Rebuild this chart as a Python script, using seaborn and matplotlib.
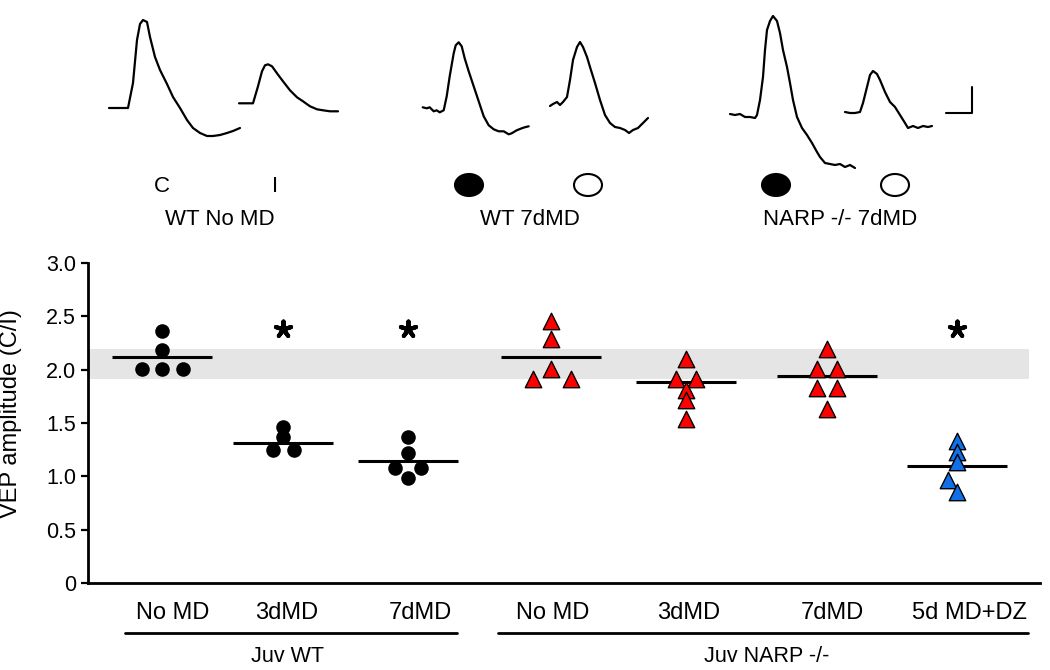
import numpy as np
import pandas as pd
import matplotlib
matplotlib.use("Agg")
import matplotlib.pyplot as plt
from matplotlib.patches import Ellipse
import seaborn as sns

# --- data ---
conditions = ["No MD", "3dMD", "7dMD", "No MD", "3dMD", "7dMD", "5d MD+DZ"]
kinds = ["wt", "wt", "wt", "narp", "narp", "narp", "dz"]

vep_wt_nomd = [2.36, 2.18, 2.01, 2.01, 2.01]
vep_wt_3d = [1.46, 1.37, 1.25, 1.25]
vep_wt_7d = [1.37, 1.22, 1.08, 1.08, 0.98]
vep_narp_nomd = [2.46, 2.29, 2.01, 1.91, 1.91]
vep_narp_3d = [2.10, 1.91, 1.91, 1.81, 1.72, 1.54]
vep_narp_7d = [2.19, 2.01, 2.01, 1.83, 1.83, 1.63]
vep_narp_dz = [1.33, 1.23, 1.13, 0.97, 0.85]

group_means = [2.12, 1.31, 1.14, 2.12, 1.88, 1.94, 1.10]
wt_band = (1.91, 2.19)          # grey range of WT no MD
significant = [1, 2, 6]          # groups with *
star_level = 2.38

# example VEP traces (t, amplitude) in screen units
trace_C_t = [0, 19, 24, 28, 31, 34, 38, 41, 46, 51, 58, 64, 71, 78, 84, 91, 98, 104, 111, 118, 124, 131]
trace_C_a = [0, 0, 25, 68, 84, 88, 86, 71, 51, 38, 24, 11, 0, -12, -20, -25, -28, -28, -27, -25, -23, -20]
trace_I_t = [0, 14, 19, 23, 26, 29, 33, 38, 44, 51, 58, 64, 71, 78, 84, 91, 99]
trace_I_a = [0, 0, 17, 32, 38, 39, 37, 30, 22, 13, 6, 2, -3, -6, -7, -8, -8]
trace_wt_dep_t = [0, 4, 7, 11, 14, 17, 21, 24, 27, 31, 33, 36, 39, 42, 46, 51, 56, 61, 66, 71, 76, 81, 86, 89, 94, 99, 102, 106]
trace_wt_dep_a = [0, -1, 0, -4, -3, -5, -3, 11, 31, 54, 62, 65, 61, 49, 36, 21, 6, -9, -18, -22, -24, -24, -27, -26, -23, -21, -20, -19]
trace_wt_open_t = [0, 3, 7, 10, 13, 17, 20, 23, 27, 30, 33, 37, 40, 45, 50, 55, 60, 65, 70, 75, 79, 83, 88, 93, 98]
trace_wt_open_a = [0, 2, 4, 1, 4, 9, 26, 46, 59, 64, 59, 49, 39, 23, 6, -9, -17, -21, -22, -24, -27, -24, -22, -17, -12]
trace_narp_dep_t = [0, 5, 10, 15, 20, 25, 27, 30, 33, 35, 37, 40, 43, 47, 50, 53, 57, 60, 63, 67, 72, 77, 82, 87, 90, 95, 100, 105, 110, 115, 120, 125]
trace_narp_dep_a = [0, -1, 0, -3, -3, -4, -1, 14, 37, 64, 84, 93, 98, 93, 81, 64, 47, 31, 14, -3, -14, -21, -29, -38, -43, -49, -50, -51, -50, -53, -51, -54]
trace_narp_open_t = [0, 5, 10, 15, 18, 22, 25, 28, 32, 35, 40, 45, 50, 55, 60, 63, 68, 73, 78, 83, 87]
trace_narp_open_a = [0, -1, -1, 0, 9, 25, 37, 41, 38, 32, 20, 10, 5, -3, -11, -16, -14, -16, -14, -15, -14]

# --- layout ---
group_x = [0, 0.917, 1.864, 2.947, 3.97, 5.038, 6.023]
label_x = [0.083, 0.947, 1.955, 2.96, 3.99, 5.08, 6.12]
# horizontal spread of overlapping points inside each group
spread = [
    [0, 0, -0.155, 0, 0.155],
    [0, 0, -0.08, 0.08],
    [0, 0, -0.10, 0.10, 0],
    [0, 0, 0, -0.14, 0.15],
    [0, -0.075, 0.075, 0, 0, 0],
    [0, -0.075, 0.075, -0.075, 0.075, 0],
    [0, 0, 0, -0.07, 0],
]

all_vals = [vep_wt_nomd, vep_wt_3d, vep_wt_7d, vep_narp_nomd, vep_narp_3d, vep_narp_7d, vep_narp_dz]
rows = []
for g, vals in enumerate(all_vals):
    for v, dx in zip(vals, spread[g]):
        rows.append({"x": group_x[g] + dx, "vep": v, "kind": kinds[g]})
df = pd.DataFrame(rows)

sns.set_style("ticks")
plt.rcParams["font.family"] = ["Liberation Sans", "DejaVu Sans"]
plt.rcParams["text.color"] = "black"
plt.rcParams["axes.labelcolor"] = "black"
plt.rcParams["axes.edgecolor"] = "black"
plt.rcParams["xtick.color"] = "black"
plt.rcParams["ytick.color"] = "black"

fig = plt.figure(figsize=(10.5, 6.7), dpi=100)
ax = fig.add_axes([88 / 1050, 87 / 670, 952 / 1050, 320 / 670])

# grey band = range of control animals
ax.axhspan(wt_band[0], wt_band[1], xmin=0, xmax=0.988, color="#e5e5e5", lw=0, zorder=0)

sns.scatterplot(data=df[df.kind == "wt"], x="x", y="vep", marker="o", s=110,
                color="black", edgecolor="black", linewidth=0, ax=ax, zorder=3, legend=False)
sns.scatterplot(data=df[df.kind == "narp"], x="x", y="vep", marker="^", s=140,
                color="#ff0000", edgecolor="black", linewidth=1.0, ax=ax, zorder=3, legend=False)
sns.scatterplot(data=df[df.kind == "dz"], x="x", y="vep", marker="^", s=140,
                color="#1170e8", edgecolor="black", linewidth=1.0, ax=ax, zorder=3, legend=False)

# mean lines
for gx, m in zip(group_x, group_means):
    ax.hlines(m, gx - 0.38, gx + 0.38, color="black", lw=2.2, zorder=2)

# significance stars
ax.scatter([group_x[i] for i in significant], [star_level] * len(significant),
           marker=(5, 2, 0), s=130, color="black", linewidths=3.0, zorder=4)

ax.set_xlim(-0.561, 6.652)
ax.set_ylim(0, 3.0)
ax.set_yticks(np.arange(0, 3.01, 0.5))
ax.set_yticklabels(["0", "0.5", "1.0", "1.5", "2.0", "2.5", "3.0"], fontsize=15.5)
ax.set_xticks(label_x)
ax.set_xticklabels(conditions, fontsize=17)
ax.tick_params(axis="x", length=0, pad=14)
ax.tick_params(axis="y", length=5, width=1.6, direction="out")
ax.set_xlabel("")
ax.set_ylabel("VEP amplitude (C/I)", fontsize=17)
ax.yaxis.set_label_coords(-0.069, 0.53)
sns.despine(ax=ax)
for s in ["left", "bottom"]:
    ax.spines[s].set_linewidth(2)

# genotype brackets under the condition labels
trans = ax.get_xaxis_transform()
ax.plot([-0.28, 2.235], [-0.156, -0.156], color="black", lw=2, transform=trans, clip_on=False)
ax.plot([2.545, 6.56], [-0.156, -0.156], color="black", lw=2, transform=trans, clip_on=False)
ax.text(0.947, -0.246, "Juv WT", fontsize=15.5, ha="center", va="baseline", transform=trans)
ax.text(4.58, -0.246, "Juv NARP -/-", fontsize=15.5, ha="center", va="baseline", transform=trans)

# --- top row: example traces ---
top = fig.add_axes([0, 1 - 245 / 670, 1, 245 / 670])
top.set_xlim(0, 1050)
top.set_ylim(245, 0)
top.axis("off")

traces = [
    (trace_C_t, trace_C_a, 109, 108),
    (trace_I_t, trace_I_a, 239, 103.3),
    (trace_wt_dep_t, trace_wt_dep_a, 422.7, 107.3),
    (trace_wt_open_t, trace_wt_open_a, 550, 106),
    (trace_narp_dep_t, trace_narp_dep_a, 730, 114),
    (trace_narp_open_t, trace_narp_open_a, 845, 112),
]
for t, a, x0, y0 in traces:
    top.plot(x0 + np.array(t), y0 - np.array(a), color="black", lw=1.6)

top.text(162, 187, "C", fontsize=16, ha="center", va="center")
top.text(275, 187, "I", fontsize=16, ha="center", va="center")
for xc, fill in [(469, True), (588, False), (776, True), (895, False)]:
    top.add_patch(Ellipse((xc, 185), 28, 22, facecolor="black" if fill else "white",
                          edgecolor="black", lw=1.5))
top.text(220, 219, "WT No MD", fontsize=16, ha="center", va="center")
top.text(530, 219, "WT 7dMD", fontsize=16, ha="center", va="center")
top.text(840, 219, "NARP -/- 7dMD", fontsize=16, ha="center", va="center")

# scale bar
top.plot([972, 972, 946], [87, 113, 113], color="black", lw=1.5)

fig.savefig("out.png", dpi=100)
